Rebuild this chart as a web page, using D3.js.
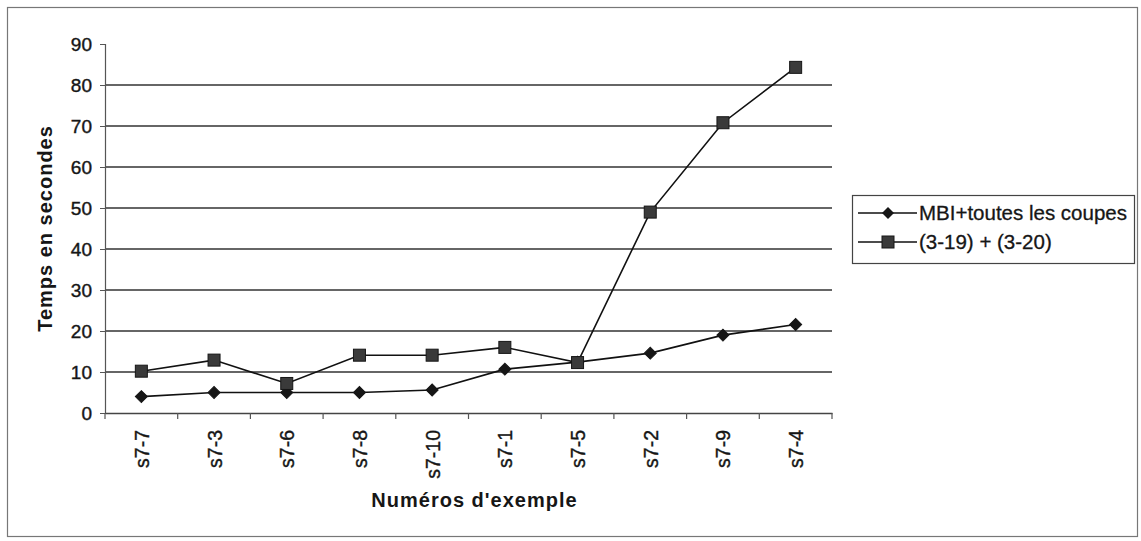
<!DOCTYPE html>
<html><head><meta charset="utf-8">
<script src="https://cdn.jsdelivr.net/npm/d3@7"></script>
<style>body{margin:0;background:#fff}svg{display:block}text{font-family:"Liberation Sans",Arial,sans-serif;fill:#161616}</style>
</head><body><svg id="c" width="1141" height="541"></svg>
<script>
const categories = ["s7-7","s7-3","s7-6","s7-8","s7-10","s7-1","s7-5","s7-2","s7-9","s7-4"];
const mbiValues = [4, 5, 5, 5, 5.6, 10.7, 12.4, 14.6, 19, 21.6];
const coupesValues = [10.2, 12.9, 7.2, 14.1, 14.1, 16, 12.3, 49, 70.8, 84.3];
const yTicks = [0,10,20,30,40,50,60,70,80,90];
const seriesNames = ["MBI+toutes les coupes", "(3-19) + (3-20)"];
const yTitle = "Temps en secondes";
const xTitle = "Numéros d'exemple";

const svg = d3.select("#c");
const L = 105, R = 832, T = 44, B = 413;
svg.append("rect").attr("x",7.5).attr("y",7.5).attr("width",1130).attr("height",529)
  .attr("fill","none").attr("stroke","#777").attr("stroke-width",1.2);

const x = d3.scaleBand().domain(categories).range([L,R]);
const y = d3.scaleLinear().domain([0,90]).range([B,T]);

// gridlines
svg.append("g").selectAll("line").data(yTicks.filter(d=>d>0 && d<90)).join("line")
  .attr("x1",L).attr("x2",R).attr("y1",d=>y(d)).attr("y2",d=>y(d))
  .attr("stroke","#333").attr("stroke-width",1.3);

// y axis
const ya = svg.append("g").attr("transform",`translate(${L},0)`)
  .call(d3.axisLeft(y).tickValues(yTicks).tickSize(5).tickPadding(8).tickFormat(d3.format("d")));
ya.select(".domain").attr("stroke","#555").attr("stroke-width",1.2);
ya.selectAll(".tick line").attr("stroke","#555");
ya.selectAll("text").style("font-size","19px").style("font-family","Liberation Sans, Arial, sans-serif")
  .attr("fill","#161616").attr("stroke","#161616").attr("stroke-width",0.4).attr("dy","0.36em");

// x axis
const xa = svg.append("g").attr("transform",`translate(0,${B})`)
  .call(d3.axisBottom(x).tickSize(0).tickFormat(""));
xa.select(".domain").attr("stroke","#444").attr("stroke-width",1.3);
svg.append("g").selectAll("line").data(d3.range(categories.length+1)).join("line")
  .attr("x1",i=>L+i*x.step()).attr("x2",i=>L+i*x.step()).attr("y1",B).attr("y2",B+6)
  .attr("stroke","#555").attr("stroke-width",1.2);
svg.append("g").selectAll("text").data(categories).join("text")
  .attr("transform",d=>`translate(${x(d)+x.bandwidth()/2+7.5},430) rotate(-90)`)
  .attr("text-anchor","end").style("font-size","19.5px")
  .attr("stroke","#161616").attr("stroke-width",0.4).text(d=>d);

// titles
svg.append("text").attr("transform",`translate(52,${(T+B)/2}) rotate(-90)`)
  .attr("text-anchor","middle").style("font-size","20px").style("font-weight","bold")
  .style("letter-spacing","1px").text(yTitle);
svg.append("text").attr("x",(L+R)/2+6).attr("y",507).attr("text-anchor","middle")
  .style("font-size","20px").style("font-weight","bold").style("letter-spacing","1px").text(xTitle);

const cx = d => x(d)+x.bandwidth()/2;
const line = d3.line().x((d,i)=>cx(categories[i])).y(d=>y(d));

function drawSeries(vals, kind){
  svg.append("path").datum(vals).attr("d",line).attr("fill","none").attr("stroke","#111").attr("stroke-width",1.6);
  const g = svg.append("g");
  vals.forEach((v,i)=>{
    if(kind==="d"){
      g.append("path").attr("d",d3.symbol().type(d3.symbolSquare).size(72)())
        .attr("transform",`translate(${cx(categories[i])},${y(v)}) rotate(45)`).attr("fill","#161616").attr("stroke","#161616");
    } else {
      g.append("rect").attr("x",cx(categories[i])-6).attr("y",y(v)-6).attr("width",12).attr("height",12)
        .attr("fill","#3a3a3a").attr("stroke","#161616").attr("stroke-width",1);
    }
  });
}
drawSeries(mbiValues,"d");
drawSeries(coupesValues,"s");

// legend
const lg = svg.append("g");
lg.append("rect").attr("x",852.5).attr("y",195.5).attr("width",282).attr("height",68)
  .attr("fill","#fff").attr("stroke","#444").attr("stroke-width",1.2);
seriesNames.forEach((n,i)=>{
  const yy = 213 + i*29;
  lg.append("line").attr("x1",858).attr("x2",917).attr("y1",yy).attr("y2",yy).attr("stroke","#111").attr("stroke-width",1.6);
  if(i===0){
    lg.append("path").attr("d",d3.symbol().type(d3.symbolSquare).size(72)())
      .attr("transform",`translate(888,${yy}) rotate(45)`).attr("fill","#161616");
  } else {
    lg.append("rect").attr("x",882).attr("y",yy-6).attr("width",12).attr("height",12).attr("fill","#3a3a3a").attr("stroke","#161616");
  }
  lg.append("text").attr("x",919).attr("y",yy+7).style("font-size","20.5px")
    .attr("stroke","#161616").attr("stroke-width",0.3).text(n);
});
</script></body></html>
